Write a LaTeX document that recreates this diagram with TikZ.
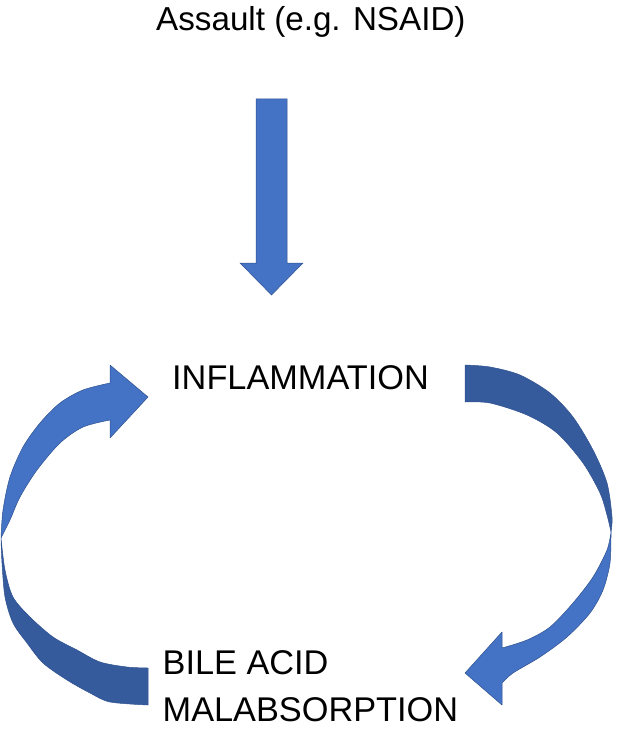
\documentclass[tikz,border=0pt]{standalone}
\usepackage{fontspec}
\setmainfont{Liberation Sans}
\definecolor{lightblue}{HTML}{4472C4}
\definecolor{darkblue}{HTML}{365B9D}
\definecolor{edgeblue}{HTML}{2F528F}
\begin{document}
\begin{tikzpicture}[x=1pt,y=-1pt,
  lbl/.style={inner sep=0pt, anchor=base west, font=\fontsize{34.3}{40}\selectfont, text=black},
  lightpart/.style={fill=lightblue, draw=edgeblue, line width=0.5pt, line join=round},
  darkpart/.style={fill=darkblue, draw=edgeblue, line width=0.5pt, line join=round}]
\useasboundingbox (0,0) rectangle (643,735);

% texts
\node[lbl, font=\fontsize{33.2}{40}\selectfont] (assault) at (156,31) {Assault (e.g. NSAID)};
\node[lbl] (infl) at (172,389) {INFLAMMATION};
\node[lbl] (bile) at (162.5,674) {BILE ACID};
\node[lbl] (malab) at (162.5,721) {MALABSORPTION};

% down block arrow
\path[lightpart, line join=miter] (256,99) -- (287,99) -- (287,263) -- (303,263) -- (271.5,295) -- (240,263) -- (256,263) -- cycle;

% left curved arrow: dark tail
\path[darkpart] plot[smooth] coordinates {(148,705) (110,702) (90,693) (67,680) (43,663) (27,643) (13,623) (5,597) (2,563) (1,538)}
  -- plot[smooth] coordinates {(1,538) (5,570) (13,597) (30,617) (53,637) (77,650) (100,662) (127,667) (148,668)} -- cycle;
% left curved arrow: light head part
\path[lightpart] plot[smooth] coordinates {(1,538) (3,510) (10,477) (23,447) (40,423) (60,403) (83,390) (110,383)}
  -- (110,365) -- (148,397) -- (110,438)
  -- plot[smooth] coordinates {(110,420) (83,427) (60,443) (37,470) (20,497) (10,520) (1,538)} -- cycle;

% right curved arrow: dark tail
\path[darkpart] plot[smooth] coordinates {(465,365) (490,367) (520,375) (550,393) (573,417) (593,450) (607,483) (612,517) (611,532)}
  -- plot[smooth] coordinates {(611,532) (607,515) (600,493) (583,463) (557,433) (527,415) (490,403) (465,402)} -- cycle;
% right curved arrow: light head part
\path[lightpart] plot[smooth] coordinates {(611,532) (610,563) (603,590) (590,613) (567,637) (540,657) (513,673) (502,683)}
  -- (502,705) -- (465,673) -- (502,632)
  -- plot[smooth] coordinates {(502,648) (527,640) (550,627) (573,603) (593,577) (607,550) (611,532)} -- cycle;
\end{tikzpicture}
\end{document}
